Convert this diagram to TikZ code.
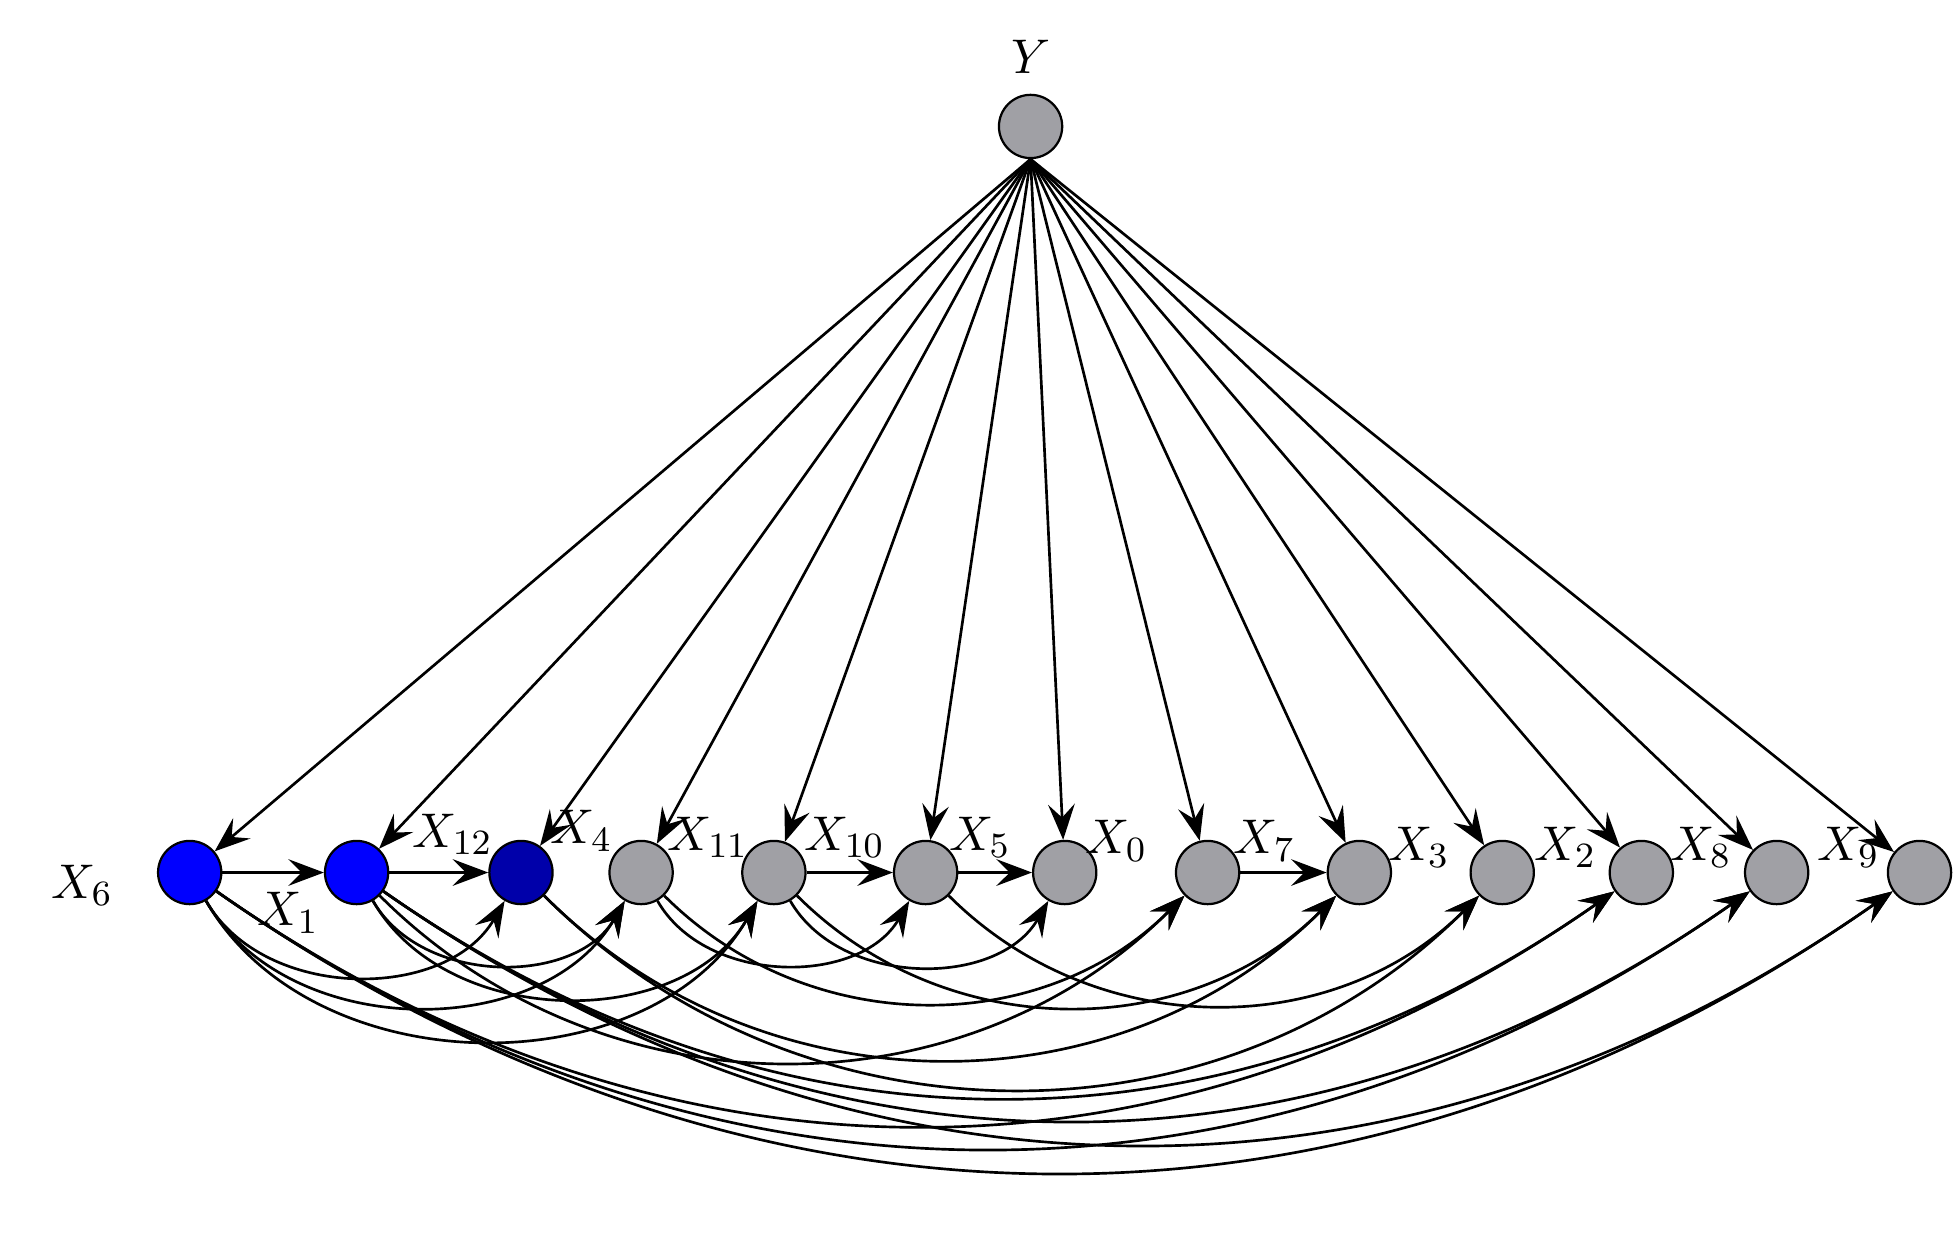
\documentclass[tikz,border=0pt]{standalone}
\usetikzlibrary{arrows.meta}
\begin{document}
\begin{tikzpicture}[x=0.01cm,y=-0.01cm,
  nd/.style={circle,draw=black,line width=0.5pt,minimum size=0.5cm,inner sep=0pt,fill=nodegray},
  arr/.style={-{Stealth[length=8pt,width=6pt,inset=3pt]},line width=0.6pt},
  lbl/.style={font=\fontsize{11}{13}\selectfont}]
\definecolor{nodegray}{RGB}{160,160,165}
\definecolor{blueA}{RGB}{0,0,255}
\definecolor{blueB}{RGB}{0,0,170}
\useasboundingbox (0,0) rectangle (1550,987);
\node[nd] (Y) at (815,100) {};
\node[nd,fill=blueA] (n1) at (150,690) {};
\node[nd,fill=blueA] (n2) at (282,690) {};
\node[nd,fill=blueB] (n3) at (412,690) {};
\node[nd] (n4) at (507,690) {};
\node[nd] (n5) at (612,690) {};
\node[nd] (n6) at (732,690) {};
\node[nd] (n7) at (842,690) {};
\node[nd] (n8) at (955,690) {};
\node[nd] (n9) at (1075,690) {};
\node[nd] (n10) at (1188,690) {};
\node[nd] (n11) at (1298,690) {};
\node[nd] (n12) at (1405,690) {};
\node[nd] (n13) at (1518,690) {};
\node[lbl] (lY) at (815,45) {$Y$};
\node[lbl] (l6) at (65,700) {$X_6$};
\node[lbl] (l1) at (228,722) {$X_1$};
\node[lbl] (l12) at (358,660) {$X_{12}$};
\node[lbl] (l4) at (460,657) {$X_4$};
\node[lbl] (l11) at (560,662) {$X_{11}$};
\node[lbl] (l10) at (668,662) {$X_{10}$};
\node[lbl] (l5) at (775,662) {$X_5$};
\node[lbl] (l0) at (883,665) {$X_0$};
\node[lbl] (l7) at (1000,665) {$X_7$};
\node[lbl] (l3) at (1122,670) {$X_3$};
\node[lbl] (l2) at (1238,670) {$X_2$};
\node[lbl] (l8) at (1345,670) {$X_8$};
\node[lbl] (l9) at (1462,670) {$X_9$};
\foreach \n in {n1,n2,n3,n4,n5,n6,n7,n8,n9,n10,n11,n12,n13}
  \draw[arr] (Y.south) -- (\n);
\draw[arr] (n1) -- (n2);
\draw[arr] (n2) -- (n3);
\draw[arr] (n5) -- (n6);
\draw[arr] (n6) -- (n7);
\draw[arr] (n8) -- (n9);
\foreach \a/\b in {n1/n3,n1/n4,n1/n5,n2/n4,n2/n5,n4/n6,n5/n7}
  \draw[arr] (\a) to[out=-60,in=-120] (\b);
\foreach \a/\b in {n2/n8,n3/n9,n3/n10,n4/n8,n5/n9,n6/n10}
  \draw[arr] (\a) to[out=-45,in=-135] (\b);
\foreach \a/\b in {n1/n11,n1/n12,n1/n13,n2/n11,n2/n12,n2/n13}
  \draw[arr] (\a) to[out=-35,in=-145] (\b);
\end{tikzpicture}
\end{document}
